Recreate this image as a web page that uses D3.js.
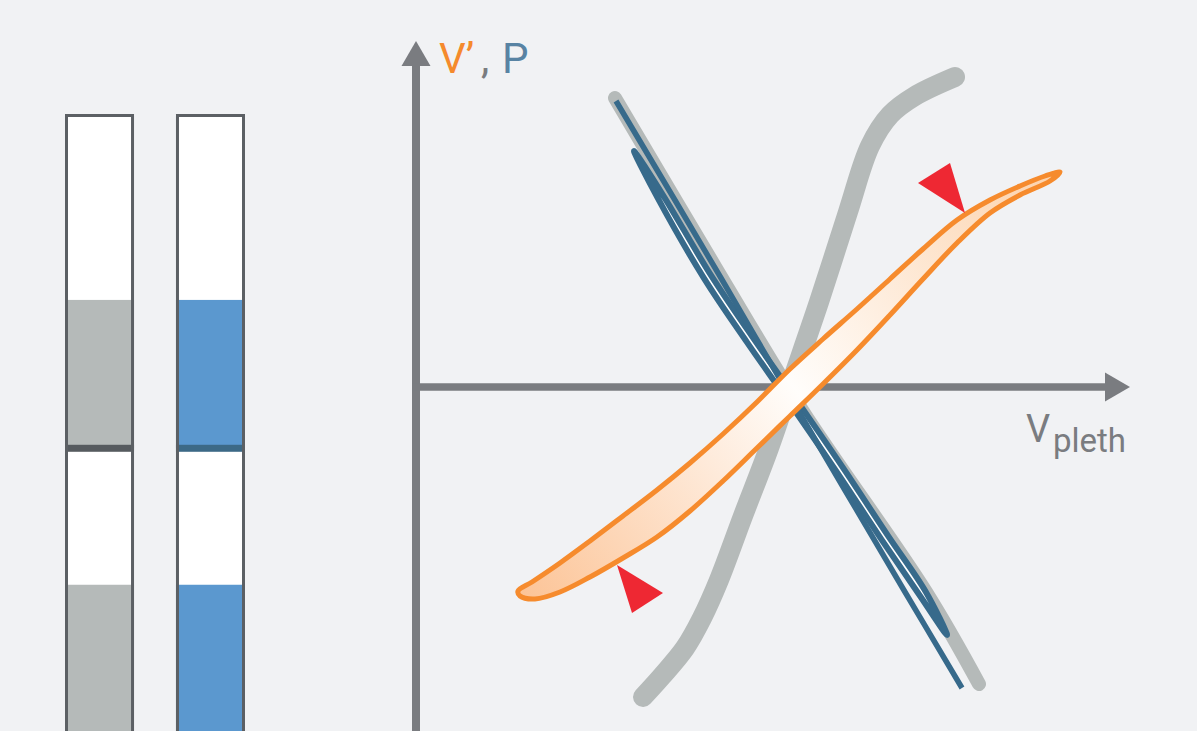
<!DOCTYPE html>
<html><head><meta charset="utf-8">
<script src="https://cdn.jsdelivr.net/npm/d3@7"></script>
<style>html,body{margin:0;padding:0;background:#f1f2f4;overflow:hidden}</style>
</head><body>
<svg id="chart" width="1197" height="731"></svg>
<script>
// ---------------- DATA ----------------
// Left: two containers, each with two compartments (bar units 0..100)
const bars = ["reference", "blood"];
const compartmentBottoms = [0, 46.6];
const compartmentTops = [46.6, 100];
const fillLevels = [24.8, 70.3];
const dividerLevel = 46.6;

// Right: schematic loops in axis units (origin = axis crossing)
const axisXMax = 71.4;   // arrow tip of V_pleth axis
const axisYMax = 34.6;   // arrow tip of V', P axis

const grayLoop = [[22.7,-31.0],[24.6,-28.9],[26.9,-26.1],[28.6,-23.1],[30.3,-19.3],[32.7,-12.9],
  [35.3,-6.1],[37.7,0.9],[40.3,8.5],[43.2,17.5],[45.4,24.1],[47.4,27.2],[49.9,29.1],[53.9,31.0]];

const grayHalo = [[19.9,28.9],[30.4,11.2],[38.6,-2.3],[51.0,-20.5],[56.3,-29.7]];

const pressureLine = [[20.0,28.6],[30.5,10.9],[37.6,-1.3],[48.9,-20.5],[54.6,-30.1]];

const pressureLoop = [[21.8,23.6],[24.15,18.93],[28.79,10.89],[33.09,4.49],[37.29,-1.51],[42.09,-8.51],
  [46.59,-15.31],[50.41,-20.9],
  [53.1,-24.8],
  [50.99,-20.5],[47.21,-14.89],[42.71,-8.09],[37.91,-1.09],[33.71,4.91],[29.41,11.31],[24.65,19.27]];

const flowLoop = [[10.2,-20.4],[11.6,-19.5],[14.4,-17.6],[17.4,-15.4],[20.7,-12.9],[24.1,-10.3],[27.4,-7.6],
  [30.7,-4.7],[34.1,-1.5],[37.4,1.8],[40.7,4.8],[44.1,7.8],[47.4,10.8],[50.7,13.8],[54.1,16.7],[57.4,18.7],
  [60.4,20.1],[62.9,21.1],[64.4,21.5],
  [63.4,20.6],[60.4,19.2],[57.4,17.4],[54.1,14.4],[50.7,10.8],[47.4,7.2],[44.1,3.7],[40.7,0.3],[37.4,-2.9],
  [34.1,-6.1],[30.7,-9.4],[27.4,-12.4],[24.1,-15.0],[20.7,-17.1],[17.4,-19.0],[14.4,-20.5],[11.9,-21.2],[10.4,-20.9]];

const arrowMarks = [
  [[50.2,20.4],[53.4,22.4],[54.9,17.4]],
  [[20.1,-17.8],[24.7,-20.6],[21.6,-22.6]]
];

// ---------------- DRAW ----------------
const svg = d3.select("#chart");
svg.append("rect").attr("width",1197).attr("height",731).attr("fill","#f1f2f4");

// Bars
const bx = d3.scaleBand().domain(bars).range([65, 245]).paddingInner(0.378).paddingOuter(0);
const by = d3.scaleLinear().domain([0, 100]).range([740, 114]);
const fillCol = {reference:"#b5bab9", blood:"#5b98cf"};
const divCol = {reference:"#565b5f", blood:"#3c6986"};
const bg = svg.append("g");
bars.forEach(b => {
  const x0 = bx(b), w = bx.bandwidth();
  bg.append("rect").attr("x", x0).attr("y", by(100)).attr("width", w).attr("height", by(0)-by(100)).attr("fill","#ffffff");
  compartmentBottoms.forEach((lo, i) => {
    bg.append("rect").attr("x", x0).attr("y", by(fillLevels[i])).attr("width", w)
      .attr("height", by(lo) - by(fillLevels[i])).attr("fill", fillCol[b]);
  });
  bg.append("rect").attr("x", x0).attr("y", by(dividerLevel)-3.5).attr("width", w).attr("height", 7).attr("fill", divCol[b]);
  bg.append("path")
    .attr("d", `M${x0+1.5},${by(0)} V${by(100)+1.5} H${x0+w-1.5} V${by(0)}`)
    .attr("fill","none").attr("stroke","#5c6064").attr("stroke-width",3);
});

// Axes
const x = d3.scaleLinear().domain([0, axisXMax]).range([416, 1130]);
const y = d3.scaleLinear().domain([-35, 35]).range([737, 37]);
const axisCol = "#7a7c80";
const ag = svg.append("g");
ag.append("line").attr("x1", x(0)).attr("x2", x(0)).attr("y1", 745).attr("y2", y(axisYMax)+22)
  .attr("stroke", axisCol).attr("stroke-width", 8);
ag.append("path").attr("d", `M${x(0)},${y(axisYMax)} L${x(0)+14.5},${y(axisYMax)+25} L${x(0)-14.5},${y(axisYMax)+25}Z`).attr("fill", axisCol);
ag.append("line").attr("x1", x(0)-4).attr("x2", x(axisXMax)-22).attr("y1", y(0)).attr("y2", y(0))
  .attr("stroke", axisCol).attr("stroke-width", 7.5);
ag.append("path").attr("d", `M${x(axisXMax)},${y(0)} L${x(axisXMax)-25},${y(0)-14.5} L${x(axisXMax)-25},${y(0)+14.5}Z`).attr("fill", axisCol);

// Curves
const open = d3.line().x(d => x(d[0])).y(d => y(d[1])).curve(d3.curveCatmullRom.alpha(0.5));
const closed = d3.line().x(d => x(d[0])).y(d => y(d[1])).curve(d3.curveCatmullRomClosed.alpha(0.5));
const cg = svg.append("g");

cg.append("path").attr("d", open(grayLoop)).attr("fill","none").attr("stroke","#b5bab9")
  .attr("stroke-width", 20).attr("stroke-linecap","round").attr("stroke-linejoin","round");
cg.append("path").attr("d", open(grayHalo)).attr("fill","none").attr("stroke","#b5bab9")
  .attr("stroke-width", 14).attr("stroke-linecap","round");
cg.append("path").attr("d", closed(pressureLoop)).attr("fill","#ffffff").attr("stroke","#376a8b")
  .attr("stroke-width", 6).attr("stroke-linejoin","round");
cg.append("path").attr("d", open(pressureLine)).attr("fill","none").attr("stroke","#376a8b")
  .attr("stroke-width", 5.5);

// orange gradient
const defs = svg.append("defs");
const p0 = flowLoop[0], p1 = flowLoop[18];
const grad = defs.append("linearGradient").attr("id","og").attr("gradientUnits","userSpaceOnUse")
  .attr("x1", x(p0[0])).attr("y1", y(p0[1])).attr("x2", x(p1[0])).attr("y2", y(p1[1]));
grad.append("stop").attr("offset", 0).attr("stop-color", "#fcc497");
grad.append("stop").attr("offset", 0.5).attr("stop-color", "#fffdfb");
grad.append("stop").attr("offset", 1).attr("stop-color", "#fcd2ab");
cg.append("path").attr("d", closed(flowLoop)).attr("fill","url(#og)").attr("stroke","#f68b2d")
  .attr("stroke-width", 5).attr("stroke-linejoin","round");

// red arrowheads
cg.selectAll("path.arr").data(arrowMarks).join("path").attr("class","arr")
  .attr("d", d => "M" + d.map(p => `${x(p[0])},${y(p[1])}`).join("L") + "Z")
  .attr("fill", "#ee2833");

// Labels
const font = "Roboto, 'Open Sans', sans-serif";
const t1 = svg.append("text").attr("y", 73).attr("font-family", font).attr("font-size", 42);
t1.append("tspan").attr("x", 439).attr("fill", "#f58a2c").text("V’");
t1.append("tspan").attr("x", 481).attr("fill", axisCol).text(",");
t1.append("tspan").attr("x", 502).attr("fill", "#5883a3").text("P");

const t2 = svg.append("text").attr("font-family", font).attr("fill", axisCol);
t2.append("tspan").attr("x", 1026).attr("y", 442).attr("font-size", 38).text("V");
t2.append("tspan").attr("x", 1053).attr("y", 452).attr("font-size", 33).text("pleth");
</script>
</body></html>
